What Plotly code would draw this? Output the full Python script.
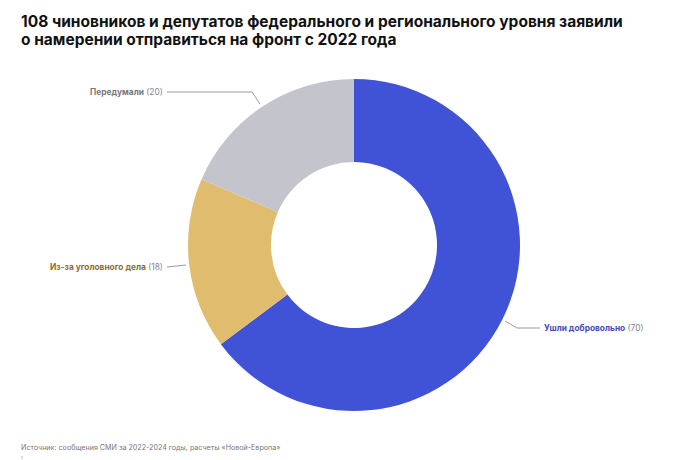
import plotly.graph_objects as go

W = 680
H = 460

categories = ["Ушли добровольно", "Из-за уголовного дела", "Передумали"]
values = [70, 18, 20]
colors = ["#4052D6", "#E0BC6E", "#C3C4CC"]
label_colors = ["#3F4DB5", "#8A6F2C", "#76777E"]

title_lines = ["108 чиновников и депутатов федерального и регионального уровня заявили",
               "о намерении отправиться на фронт с 2022 года"]
source_text = "Источник: сообщения СМИ за 2022-2024 годы, расчеты «Новой-Европа»"


# пиксели -> доли листа
def px_x(v):
    return v / W


def px_y(v):
    return 1 - v / H


fig = go.Figure(go.Pie(
    labels=categories,
    values=values,
    marker=dict(colors=colors, line=dict(width=0)),
    hole=0.5,
    sort=False,
    direction="clockwise",
    rotation=0,
    textinfo="none",
    showlegend=False,
    domain=dict(x=[px_x(188), px_x(520)], y=[px_y(411), px_y(79)]),
))

# подписи с выносками
label_pos = [(542, 328, "left"), (165, 267, "right"), (165, 92, "right")]
leaders = [
    [(505, 321), (517, 328), (540, 328)],
    [(167, 267), (186, 265)],
    [(167, 92), (252, 92), (260, 104)],
]

annotations = []
# строки заголовка отдельно, чтобы держать межстрочный интервал
for line, y in zip(title_lines, [22, 39.5]):
    annotations.append(dict(
        text=f"<b>{line}</b>", x=px_x(19), y=px_y(y), xref="paper", yref="paper",
        xanchor="left", yanchor="middle", align="left", showarrow=False,
        font=dict(family="Inter", size=15.5, color="#111111"),
    ))
annotations.append(dict(
    text=source_text, x=px_x(19), y=px_y(447), xref="paper", yref="paper",
    xanchor="left", yanchor="middle", align="left", showarrow=False,
    font=dict(family="Inter", size=7.15, color="#777777"),
))

shapes = [dict(type="line", x0=px_x(22), x1=px_x(22), y0=px_y(456), y1=px_y(459),
               xref="paper", yref="paper", line=dict(color="#B5B5B5", width=1))]
for cat, val, col, pos, pts in zip(categories, values, label_colors, label_pos, leaders):
    annotations.append(dict(
        text=f"<b>{cat}</b> <span style='color:#85868C'>({val})</span>",
        x=px_x(pos[0]), y=px_y(pos[1]), xref="paper", yref="paper",
        xanchor=pos[2], yanchor="middle", showarrow=False,
        font=dict(family="Inter", size=8.35, color=col),
    ))
    path = "M " + " L ".join(f"{px_x(a)} {px_y(b)}" for a, b in pts)
    shapes.append(dict(type="path", path=path, xref="paper", yref="paper",
                       line=dict(color="#9A9BA3", width=1)))

fig.update_layout(
    width=W,
    height=H,
    margin=dict(l=0, r=0, t=0, b=0),
    paper_bgcolor="white",
    annotations=annotations,
    shapes=shapes,
)

# у страницы по умолчанию отступ 8px
fig.write_html("out.html", config={"displayModeBar": False},
               post_script="document.body.style.margin='0';")
